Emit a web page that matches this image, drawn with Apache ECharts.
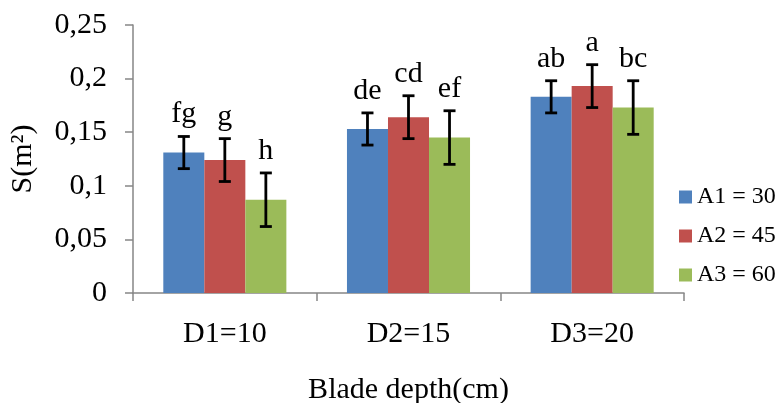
<!DOCTYPE html>
<html>
<head>
<meta charset="utf-8">
<script src="https://cdn.jsdelivr.net/npm/echarts@6/dist/echarts.min.js"></script>
<style>
html, body { margin: 0; padding: 0; background: #fff; }
#chart { width: 778px; height: 403px; }
</style>
</head>
<body>
<div id="chart"></div>
<script>
var categories = ['D1=10', 'D2=15', 'D3=20'];
var seriesNames = ['A1 = 30', 'A2 = 45', 'A3 = 60'];
var colors = ['#4F81BD', '#C0504D', '#9BBB59'];

// mean area per blade depth
var a1Values = [0.131, 0.153, 0.183];
var a2Values = [0.124, 0.164, 0.193];
var a3Values = [0.087, 0.145, 0.173];

// standard deviation (error bars)
var a1Errors = [0.015, 0.015, 0.015];
var a2Errors = [0.020, 0.020, 0.020];
var a3Errors = [0.025, 0.025, 0.025];

// significance letters
var a1Letters = ['fg', 'de', 'ab'];
var a2Letters = ['g', 'cd', 'a'];
var a3Letters = ['h', 'ef', 'bc'];

var yTicks = [0, 0.05, 0.1, 0.15, 0.2, 0.25];

var serif = '"Liberation Serif", "Times New Roman", serif';
var axisGray = '#868686';
var gapRatio = 0.33;
var bigFont = 30;

function barSeries(k, values) {
    return {
        name: seriesNames[k],
        type: 'bar',
        barGap: '0%',
        barCategoryGap: (gapRatio * 100) + '%',
        itemStyle: { color: colors[k] },
        data: values
    };
}

function errorSeries(k, values, errors, letters) {
    return {
        name: seriesNames[k] + ' sd',
        type: 'custom',
        z: 5,
        data: values.map(function (v, i) { return [i, v, errors[i]]; }),
        renderItem: function (params, api) {
            var idx = api.value(0);
            var v = api.value(1);
            var e = api.value(2);
            var band = api.size([1, 0])[0];
            var barW = band * (1 - gapRatio) / 3;
            var cx = api.coord([idx, 0])[0] + (k - 1) * barW;
            var top = api.coord([idx, v + e])[1];
            var bot = api.coord([idx, v - e])[1];
            var cap = 6;
            var st = { stroke: '#000', lineWidth: 2.8 };
            return {
                type: 'group',
                children: [
                    { type: 'line', shape: { x1: cx, y1: top, x2: cx, y2: bot }, style: st },
                    { type: 'line', shape: { x1: cx - cap, y1: top, x2: cx + cap, y2: top }, style: st },
                    { type: 'line', shape: { x1: cx - cap, y1: bot, x2: cx + cap, y2: bot }, style: st },
                    {
                        type: 'text', x: cx, y: top - 7,
                        style: {
                            text: letters[params.dataIndex],
                            fill: '#000',
                            font: bigFont + 'px ' + serif,
                            align: 'center',
                            verticalAlign: 'bottom'
                        }
                    }
                ]
            };
        }
    };
}

var myChart = echarts.init(document.getElementById('chart'));

var option = {
    animation: false,
    grid: { left: 133, right: 94, top: 25, bottom: 110, containLabel: false, outerBoundsMode: 'none' },
    legend: {
        orient: 'vertical',
        left: 679,
        top: 185,
        padding: 0,
        itemWidth: 13,
        itemHeight: 13,
        itemGap: 15,
        icon: 'rect',
        data: seriesNames,
        textStyle: { fontFamily: serif, fontSize: 24, color: '#000' }
    },
    xAxis: {
        type: 'category',
        data: categories,
        name: 'Blade depth(cm)',
        nameLocation: 'middle',
        nameGap: 82,
        nameTextStyle: { fontFamily: serif, fontSize: bigFont, color: '#000' },
        axisLine: { lineStyle: { color: axisGray, width: 1.5 } },
        axisTick: { show: true, interval: 0, length: 8, lineStyle: { color: axisGray, width: 1.5 } },
        axisLabel: { margin: 26, fontFamily: serif, fontSize: bigFont, color: '#000' }
    },
    yAxis: {
        type: 'value',
        min: yTicks[0],
        max: yTicks[yTicks.length - 1],
        interval: 0.05,
        name: 'S(m²)',
        nameLocation: 'middle',
        nameGap: 95,
        nameTextStyle: { fontFamily: serif, fontSize: bigFont, color: '#000' },
        axisLine: { show: true, lineStyle: { color: axisGray, width: 1.5 } },
        axisTick: { show: true, length: 8, lineStyle: { color: axisGray, width: 1.5 } },
        splitLine: { show: false },
        axisLabel: {
            margin: 26,
            fontFamily: serif,
            fontSize: bigFont,
            color: '#000',
            formatter: function (v) {
                return String(+v.toFixed(2)).replace('.', ',');
            }
        }
    },
    series: [
        barSeries(0, a1Values),
        barSeries(1, a2Values),
        barSeries(2, a3Values),
        errorSeries(0, a1Values, a1Errors, a1Letters),
        errorSeries(1, a2Values, a2Errors, a2Letters),
        errorSeries(2, a3Values, a3Errors, a3Letters)
    ]
};

myChart.setOption(option);
</script>
</body>
</html>
